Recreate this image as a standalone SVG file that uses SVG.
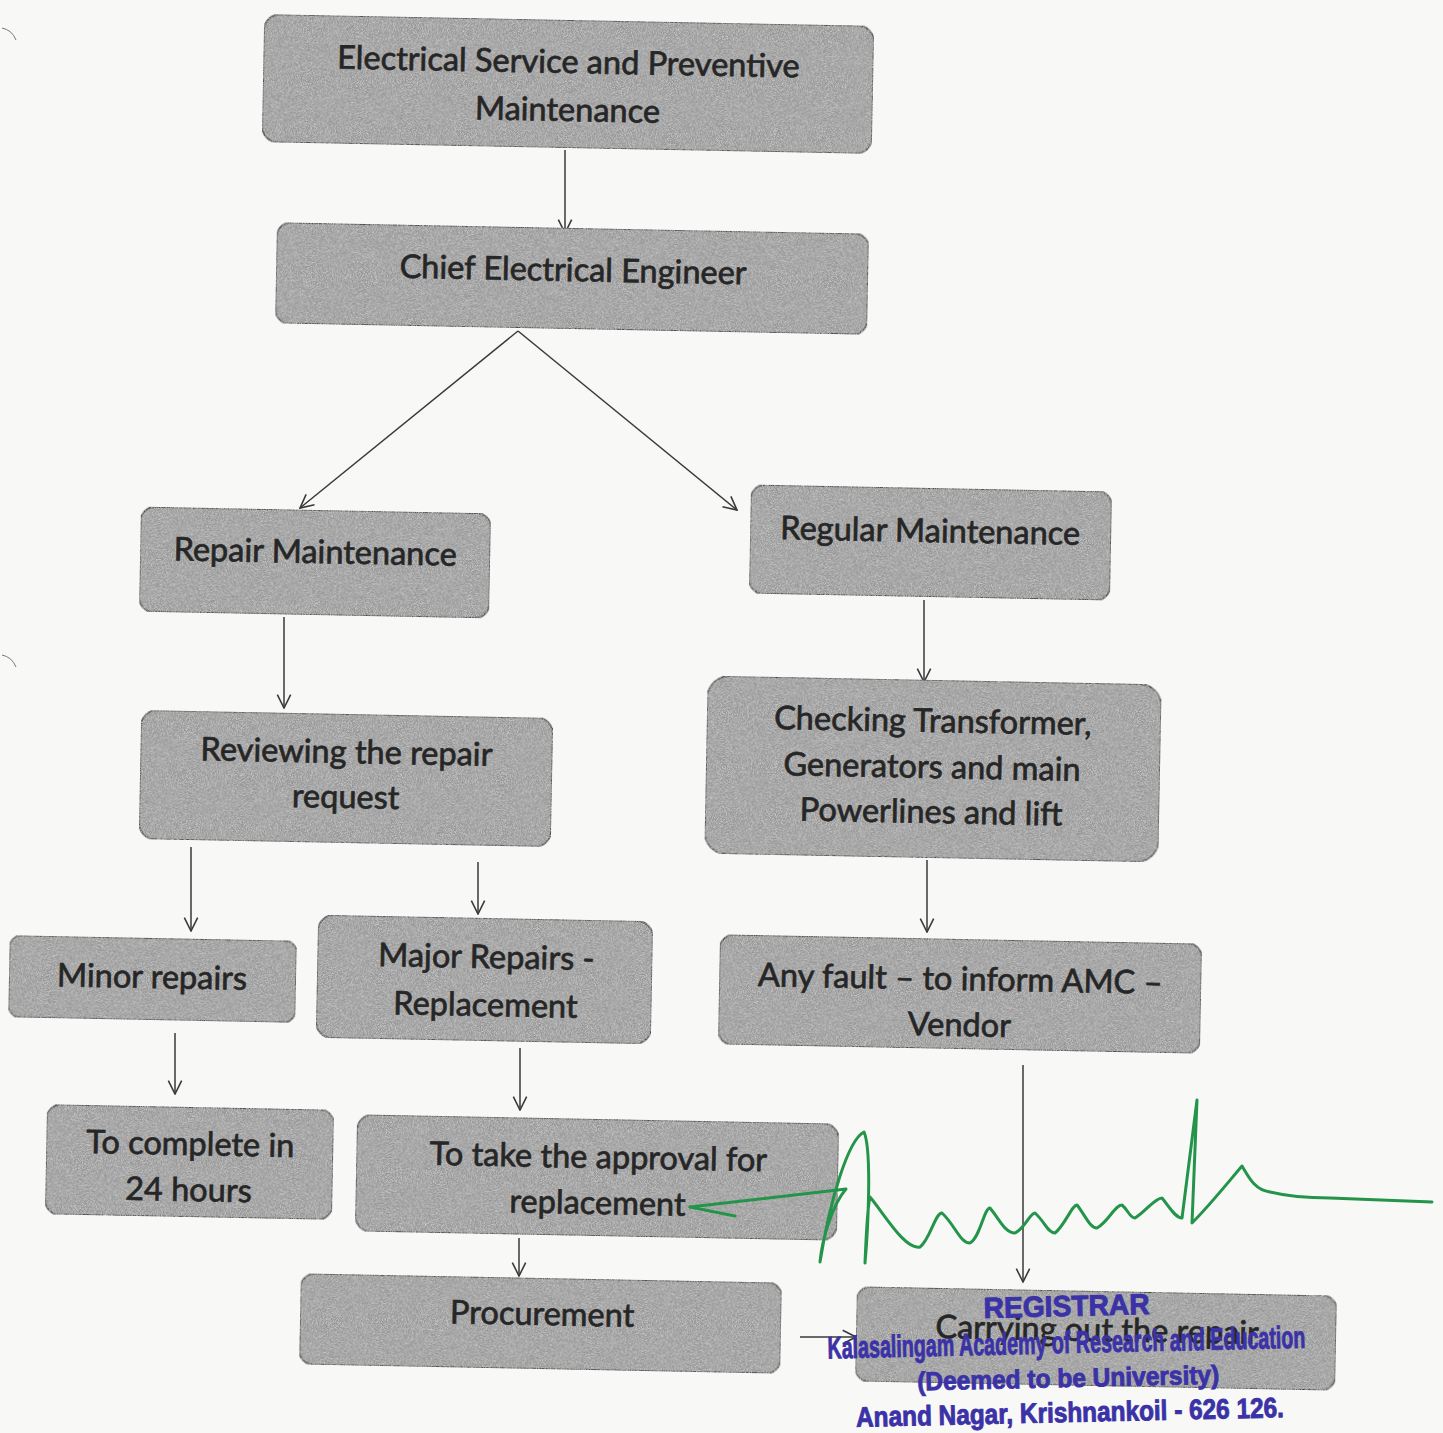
<svg xmlns="http://www.w3.org/2000/svg" width="1443" height="1433" viewBox="0 0 1443 1433">
  <style>
    .box { fill: #979797; stroke: #4a4a4a; stroke-width: 1.8; }
    .lbl { font-family: Lato, "Open Sans", "Liberation Sans", sans-serif; font-size: 32.5px; fill: #262626; text-anchor: middle; stroke: #262626; stroke-width: 0.7; }
    .edge { stroke: #3a3a3a; stroke-width: 1.5; fill: none; marker-end: url(#vhead); }
    .stamp { font-family: "Liberation Sans", Arial, sans-serif; font-weight: bold; fill: #3a32a6; stroke: #3a32a6; stroke-width: 0.9; text-anchor: middle; }
    .sign { fill: none; stroke: #23944a; stroke-width: 3; stroke-linejoin: round; stroke-linecap: round; }
  </style>
  <defs>
    <marker id="vhead" viewBox="0 0 12 12" refX="11" refY="6" markerWidth="16" markerHeight="16" markerUnits="userSpaceOnUse" orient="auto">
      <path d="M1,1 L11,6 L1,11" fill="none" stroke="#3a3a3a" stroke-width="1.2"/>
    </marker>
    <!-- speckled texture for the box fills -->
    <filter id="grain" x="0" y="0" width="100%" height="100%">
      <feTurbulence type="fractalNoise" baseFrequency="1.2" numOctaves="2" seed="3" result="n"/>
      <feColorMatrix in="n" type="matrix" values="0 0 0 0 0.85  0 0 0 0 0.85  0 0 0 0 0.85  0 0 0 1.2 -0.45" result="g"/>
      <feComposite in="g" in2="SourceAlpha" operator="in" result="gi"/>
      <feMerge><feMergeNode in="SourceGraphic"/><feMergeNode in="gi"/></feMerge>
    </filter>
  </defs>

  <rect width="1443" height="1433" fill="#f8f8f6"/>

  <!-- small marks on the left margin -->
  <path d="M2,28 Q12,30 16,40" fill="none" stroke="#777" stroke-width="1"/>
  <path d="M2,655 Q12,657 16,667" fill="none" stroke="#777" stroke-width="1"/>

  <g id="connectors">
    <line class="edge" x1="565" y1="150" x2="565" y2="233"/>
    <line class="edge" x1="518" y1="331" x2="300" y2="508"/>
    <line class="edge" x1="518" y1="331" x2="737" y2="510"/>
    <line class="edge" x1="284" y1="617" x2="284" y2="708"/>
    <line class="edge" x1="924" y1="600" x2="924" y2="682"/>
    <line class="edge" x1="191" y1="847" x2="191" y2="931"/>
    <line class="edge" x1="478" y1="862" x2="478" y2="914"/>
    <line class="edge" x1="927" y1="860" x2="927" y2="932"/>
    <line class="edge" x1="175" y1="1033" x2="175" y2="1094"/>
    <line class="edge" x1="520" y1="1048" x2="520" y2="1110"/>
    <line class="edge" x1="519" y1="1238" x2="519" y2="1276"/>
    <line class="edge" x1="1023" y1="1065" x2="1023" y2="1282"/>
    <line class="edge" x1="800" y1="1337" x2="856" y2="1337"/>
  </g>

  <g id="n-electrical" transform="rotate(1.1 568 83)">
    <rect class="box" filter="url(#grain)" x="263" y="20" width="610" height="128" rx="16"/>
    <text class="lbl" x="568" y="73">Electrical Service and Preventive</text>
    <text class="lbl" x="568" y="121">Maintenance</text>
  </g>

  <g id="n-chief" transform="rotate(1.1 572 278)">
    <rect class="box" filter="url(#grain)" x="276" y="228" width="592" height="101" rx="14"/>
    <text class="lbl" x="573" y="281">Chief Electrical Engineer</text>
  </g>

  <g id="n-repair" transform="rotate(1.1 315 562)">
    <rect class="box" filter="url(#grain)" x="140" y="510" width="350" height="105" rx="14"/>
    <text class="lbl" x="315" y="563">Repair Maintenance</text>
  </g>

  <g id="n-regular" transform="rotate(1.1 930 542)">
    <rect class="box" filter="url(#grain)" x="750" y="488" width="361" height="109" rx="14"/>
    <text class="lbl" x="930" y="542">Regular Maintenance</text>
  </g>

  <g id="n-reviewing" transform="rotate(1.1 346 778)">
    <rect class="box" filter="url(#grain)" x="140" y="714" width="412" height="129" rx="16"/>
    <text class="lbl" x="346" y="763">Reviewing the repair</text>
    <text class="lbl" x="346" y="808">request</text>
  </g>

  <g id="n-checking" transform="rotate(1.1 933 768)">
    <rect class="box" filter="url(#grain)" x="706" y="680" width="454" height="178" rx="22"/>
    <text class="lbl" x="932" y="732">Checking Transformer,</text>
    <text class="lbl" x="932" y="778">Generators and main</text>
    <text class="lbl" x="932" y="823">Powerlines and lift</text>
  </g>

  <g id="n-minor" transform="rotate(1.1 152 978)">
    <rect class="box" filter="url(#grain)" x="9" y="938" width="287" height="82" rx="12"/>
    <text class="lbl" x="152" y="988">Minor repairs</text>
  </g>

  <g id="n-major" transform="rotate(1.1 485 978)">
    <rect class="box" filter="url(#grain)" x="317" y="918" width="335" height="123" rx="16"/>
    <text class="lbl" x="486" y="968">Major Repairs -</text>
    <text class="lbl" x="486" y="1016">Replacement</text>
  </g>

  <g id="n-fault" transform="rotate(1.1 960 993)">
    <rect class="box" filter="url(#grain)" x="719" y="939" width="482" height="110" rx="14"/>
    <text class="lbl" x="960" y="990">Any fault – to inform AMC –</text>
    <text class="lbl" x="960" y="1036">Vendor</text>
  </g>

  <g id="n-complete" transform="rotate(1.1 189 1161)">
    <rect class="box" filter="url(#grain)" x="46" y="1107" width="287" height="110" rx="14"/>
    <text class="lbl" x="190" y="1155">To complete in</text>
    <text class="lbl" x="189" y="1201">24 hours</text>
  </g>

  <g id="n-approval" transform="rotate(1.1 597 1177)">
    <rect class="box" filter="url(#grain)" x="356" y="1119" width="482" height="117" rx="16"/>
    <text class="lbl" x="598" y="1168">To take the approval for</text>
    <text class="lbl" x="598" y="1214">replacement</text>
  </g>

  <g id="n-procurement" transform="rotate(1.1 540 1323)">
    <rect class="box" filter="url(#grain)" x="300" y="1278" width="481" height="91" rx="14"/>
    <text class="lbl" x="542" y="1325">Procurement</text>
  </g>

  <g id="n-carrying" transform="rotate(1.1 1096 1338)">
    <rect class="box" filter="url(#grain)" x="856" y="1291" width="480" height="95" rx="14"/>
    <text class="lbl" x="1097" y="1341">Carrying out the repair</text>
  </g>

  <!-- signature -->
  <g id="signature">
    <path class="sign" d="M690,1207 L846,1189 C832,1205 822,1240 820,1262 C830,1200 848,1140 864,1132 C872,1150 868,1230 865,1263 C866,1240 867,1210 870,1197 C885,1215 905,1250 920,1247 C930,1240 935,1213 942,1213 C955,1225 960,1243 970,1243 C980,1238 984,1208 990,1208 C1000,1220 1005,1233 1015,1233 C1025,1228 1030,1213 1035,1213 C1045,1222 1048,1233 1055,1233 C1065,1225 1072,1205 1077,1205 C1085,1215 1090,1228 1097,1228 C1108,1222 1115,1205 1122,1205 C1128,1210 1130,1218 1135,1218 C1145,1212 1155,1198 1162,1198 C1168,1205 1175,1218 1182,1218 L1197,1100 L1192,1223 C1210,1205 1230,1180 1242,1166 C1250,1180 1256,1190 1270,1192 C1290,1197 1310,1198 1330,1198 L1432,1202"/>
    <path class="sign" d="M690,1207 L735,1216"/>
  </g>

  <!-- registrar stamp -->
  <g id="stamp" transform="rotate(-1.3 1068 1370)">
    <text class="stamp" x="1068" y="1316" font-size="29" textLength="166" lengthAdjust="spacingAndGlyphs">REGISTRAR</text>
    <text class="stamp" x="1067" y="1353" font-size="31" textLength="478" lengthAdjust="spacingAndGlyphs">Kalasalingam Academy of Research and Education</text>
    <text class="stamp" x="1068" y="1387" font-size="26" textLength="302" lengthAdjust="spacingAndGlyphs">(Deemed to be University)</text>
    <text class="stamp" x="1069" y="1422" font-size="28" textLength="428" lengthAdjust="spacingAndGlyphs">Anand Nagar, Krishnankoil - 626 126.</text>
  </g>
</svg>
